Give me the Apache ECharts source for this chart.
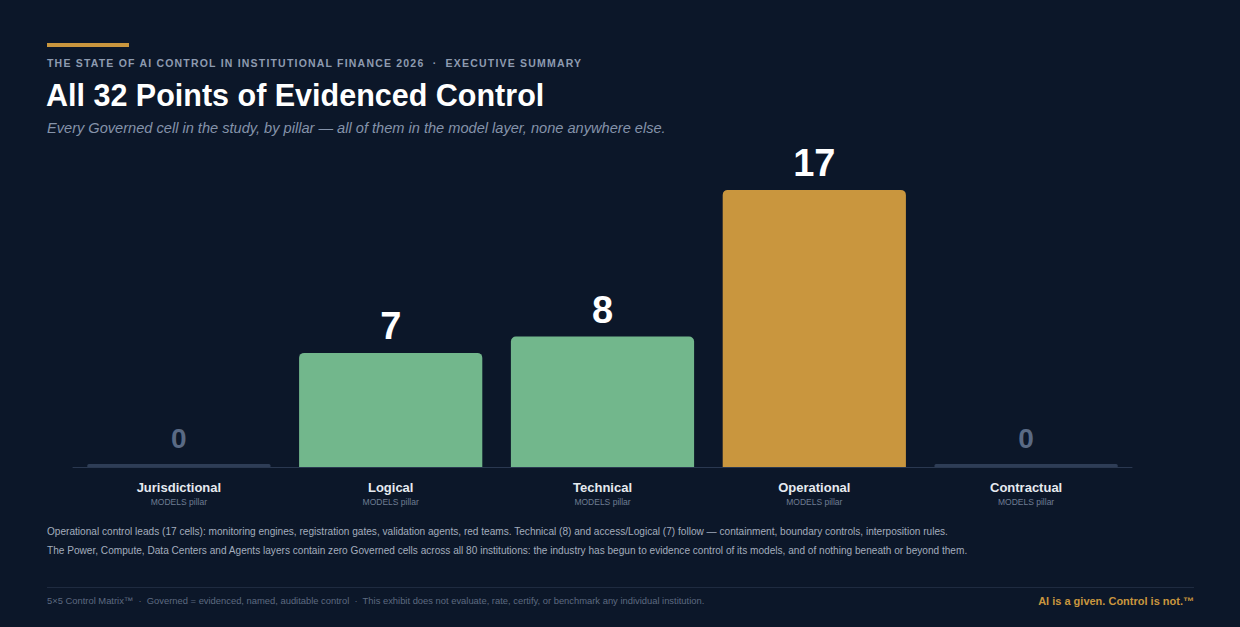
<!DOCTYPE html>
<html>
<head>
<meta charset="utf-8">
<style>
  html, body { margin: 0; padding: 0; background: #0c1729; }
  #wrap { position: relative; width: 1240px; height: 627px; }
  #chart { width: 1240px; height: 627px; }
  #kicker {
    position: absolute; left: 47px; top: 57px;
    font: bold 10.5px "Liberation Sans", Arial, Helvetica, sans-serif;
    letter-spacing: 1.2px; color: #8e9bb0; white-space: nowrap;
  }
</style>
<script src="https://cdn.jsdelivr.net/npm/echarts@6/dist/echarts.min.js"></script>
</head>
<body>
<div id="wrap">
  <div id="chart"></div>
  <div id="kicker">THE STATE OF AI CONTROL IN INSTITUTIONAL FINANCE 2026 &nbsp;&middot;&nbsp; EXECUTIVE SUMMARY</div>
</div>
<script>
// chart data
const categories = ['Jurisdictional', 'Logical', 'Technical', 'Operational', 'Contractual'];
const governedCells = [0, 7, 8, 17, 0];
const layerName = 'MODELS pillar';
const notes = [
    'Operational control leads (17 cells): monitoring engines, registration gates, validation agents, red teams. Technical (8) and access/Logical (7) follow \u2014 containment, boundary controls, interposition rules.',
    'The Power, Compute, Data Centers and Agents layers contain zero Governed cells across all 80 institutions: the industry has begun to evidence control of its models, and of nothing beneath or beyond them.'
];

const FONT = '"Liberation Sans", Arial, Helvetica, sans-serif';
const BG = '#0c1729';
const GOLD = '#c9963e';
const GREEN = '#72b78c';
const STUB = '#2e3d56';

const maxVal = Math.max(...governedCells);
const barColor = v => (v === 0 ? STUB : v === maxVal ? GOLD : GREEN);

const chart = echarts.init(document.getElementById('chart'), null, {renderer: 'svg'});

chart.setOption({
    backgroundColor: BG,
    animation: false,
    grid: {left: 73, right: 108, top: 141, bottom: 160},
    xAxis: {
        type: 'category',
        data: categories,
        axisTick: {show: false},
        axisLine: {lineStyle: {color: '#2a3850', width: 1}},
        axisLabel: {
            margin: 12,
            formatter: v => '{a|' + v + '}\n{b|' + layerName + '}',
            rich: {
                a: {fontFamily: FONT, fontSize: 13, fontWeight: 'bold', color: '#e6eaf0', lineHeight: 16},
                b: {fontFamily: FONT, fontSize: 8.5, color: '#6f7d93', lineHeight: 14}
            }
        }
    },
    yAxis: {
        type: 'value',
        min: 0,
        max: 20,
        show: false,
        splitLine: {show: false}
    },
    series: [{
        type: 'bar',
        barWidth: '86.5%',
        barMinHeight: 3,
        data: governedCells.map(v => ({
            value: v,
            itemStyle: {
                color: barColor(v),
                borderRadius: v === 0 ? [1.5, 1.5, 0, 0] : [5, 5, 0, 0]
            },
            label: v === 0
                ? {fontSize: 28, color: '#5a6a84', distance: 12}
                : {fontSize: 38, color: '#ffffff', distance: 8}
        })),
        label: {
            show: true,
            position: 'top',
            fontFamily: FONT,
            fontWeight: 'bold'
        }
    }],
    graphic: [
        {type: 'rect', left: 47, top: 43, shape: {width: 82, height: 4}, style: {fill: GOLD}},
        {
            type: 'text', left: 46, top: 79,
            style: {text: 'All 32 Points of Evidenced Control', font: 'bold 30.5px ' + FONT, fill: '#ffffff'}
        },
        {
            type: 'text', left: 47, top: 120,
            style: {
                text: 'Every Governed cell in the study, by pillar \u2014 all of them in the model layer, none anywhere else.',
                font: 'italic 14.6px ' + FONT, fill: '#8593aa'
            }
        },
        {
            type: 'text', left: 47, top: 526,
            style: {text: notes[0], font: '10.1px ' + FONT, fill: '#a3adbd'}
        },
        {
            type: 'text', left: 47, top: 545,
            style: {text: notes[1], font: '10.1px ' + FONT, fill: '#a3adbd'}
        },
        {type: 'rect', left: 47, top: 587, shape: {width: 1147, height: 1}, style: {fill: '#1f2b40'}},
        {
            type: 'text', left: 47, top: 596,
            style: {
                text: '5\u00d75 Control Matrix\u2122  \u00b7  Governed = evidenced, named, auditable control  \u00b7  This exhibit does not evaluate, rate, certify, or benchmark any individual institution.',
                font: '9.4px ' + FONT, fill: '#5d6a80'
            }
        },
        {
            type: 'text', right: 46, top: 595,
            style: {text: 'AI is a given. Control is not.\u2122', font: 'bold 11px ' + FONT, fill: GOLD}
        }
    ]
});

window.addEventListener('resize', () => chart.resize());
</script>
</body>
</html>
